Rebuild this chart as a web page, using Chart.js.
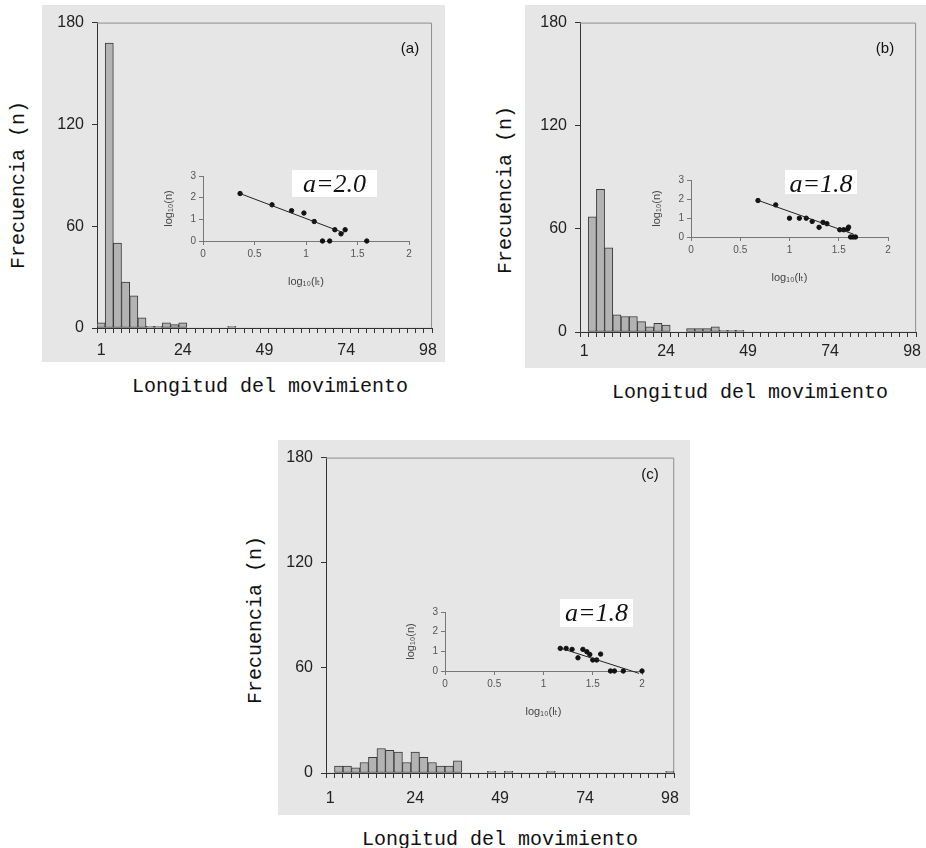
<!DOCTYPE html>
<html lang="es">
<head>
<meta charset="UTF-8">
<title>Frecuencia y longitud del movimiento</title>
<script src="https://cdn.jsdelivr.net/npm/chart.js"></script>
<style>
  body { margin: 0; background: #fff; width: 926px; height: 848px; position: relative; overflow: hidden; }
  .panel { position: absolute; background: #e6e6e6; }
  canvas { position: absolute; }
  .ytitle, .xtitle { position: absolute; font-family: 'Liberation Mono', monospace; font-size: 20px; color: #111; white-space: nowrap; }
  .ytitle { transform: translate(-50%, -50%) rotate(-90deg); }
  .xtitle { transform: translate(-50%, -50%); }
  .tag { position: absolute; font: 15px 'Liberation Sans', Arial, sans-serif; color: #111; transform: translate(-50%, -50%); }
  .alpha { position: absolute; background: #fff; font: italic 26px 'Liberation Serif', serif; color: #111; text-align: center; line-height: 28px; }
</style>
</head>
<body>
  <div class="panel" style="left:42px;top:5px;width:403px;height:357px"></div>
  <div class="panel" style="left:525px;top:5px;width:401px;height:363px"></div>
  <div class="panel" style="left:278px;top:440px;width:412px;height:375px"></div>

  <canvas id="histA" width="403" height="357" style="left:42px;top:5px"></canvas>
  <canvas id="histB" width="401" height="363" style="left:525px;top:5px"></canvas>
  <canvas id="histC" width="412" height="375" style="left:278px;top:440px"></canvas>

  <canvas id="insetA" width="270" height="135" style="left:150px;top:160px"></canvas>
  <canvas id="insetB" width="275" height="125" style="left:640px;top:165px"></canvas>
  <canvas id="insetC" width="260" height="125" style="left:395px;top:597px"></canvas>

  <div class="tag" style="left:410px;top:47px">(a)</div>
  <div class="tag" style="left:885px;top:47px">(b)</div>
  <div class="tag" style="left:650px;top:473px">(c)</div>

  <div class="alpha" style="left:292px;top:170px;width:85px;height:27px">a=2.0</div>
  <div class="alpha" style="left:785px;top:170px;width:72px;height:24px">a=1.8</div>
  <div class="alpha" style="left:560px;top:599px;width:73px;height:28px">a=1.8</div>

  <div class="ytitle" style="left:18px;top:185px">Frecuencia (n)</div>
  <div class="ytitle" style="left:505px;top:190px">Frecuencia (n)</div>
  <div class="ytitle" style="left:255px;top:620px">Frecuencia (n)</div>
  <div class="xtitle" style="left:270px;top:386px">Longitud del movimiento</div>
  <div class="xtitle" style="left:750px;top:392px">Longitud del movimiento</div>
  <div class="xtitle" style="left:500px;top:839px">Longitud del movimiento</div>

<script>
// etiquetas del eje x (una cada 10 clases) y del eje y
const xTickLabels = ['1', '24', '49', '74', '98'];
const yTicks = [0, 60, 120, 180];

// frecuencias por clase (41 clases)
const countsA = [3, 168, 50, 27, 19, 6, 1, 1, 3, 2, 3, 0, 0, 0, 0, 0, 1, 0, 0, 0,
                 0, 0, 0, 0, 0, 0, 0, 0, 0, 0, 0, 0, 0, 0, 0, 0, 0, 0, 0, 0, 0];
const countsB = [0, 67, 83, 49, 10, 9, 9, 6, 3, 5, 4, 0, 0, 2, 2, 2, 3, 1, 1, 1,
                 0, 0, 0, 0, 0, 0, 0, 0, 0, 0, 0, 0, 0, 0, 0, 0, 0, 0, 0, 0, 0];
const countsC = [0, 4, 4, 3, 6, 9, 14, 13, 12, 6, 12, 9, 6, 4, 4, 7, 0, 0, 0, 1,
                 0, 1, 0, 0, 0, 0, 1, 0, 0, 0, 0, 0, 0, 0, 0, 0, 0, 0, 0, 0, 1];

// graficos log-log
const logLA = [0.36, 0.67, 0.86, 0.98, 1.08, 1.16, 1.23, 1.28, 1.34, 1.38, 1.59];
const logNA = [2.19, 1.67, 1.40, 1.29, 0.90, 0, 0, 0.52, 0.33, 0.52, 0];
const fitXA = [0.36, 1.37];
const fitYA = [2.19, 0.37];

const logLB = [0.68, 0.86, 1.00, 1.10, 1.17, 1.23, 1.30, 1.34, 1.38, 1.51, 1.55, 1.59, 1.60, 1.62, 1.645, 1.67];
const logNB = [1.92, 1.69, 0.99, 0.99, 0.99, 0.82, 0.51, 0.77, 0.70, 0.38, 0.38, 0.42, 0.52, 0, 0, 0];
const fitXB = [0.68, 1.65];
const fitYB = [1.93, 0.15];

const logLC = [1.17, 1.23, 1.29, 1.35, 1.40, 1.44, 1.47, 1.50, 1.54, 1.58, 1.68, 1.72, 1.81, 2.00];
const logNC = [1.15, 1.15, 1.10, 0.67, 1.10, 0.98, 0.84, 0.56, 0.56, 0.86, 0, 0, 0, 0];
const fitXC = [1.15, 1.97];
const fitYC = [1.20, -0.12];

const sans = "'Liberation Sans', Arial, sans-serif";

// marco gris arriba y a la derecha del area del grafico
const frame = {
  id: 'frame',
  beforeDatasetsDraw(chart) {
    const { ctx, chartArea: a } = chart;
    ctx.save();
    ctx.strokeStyle = '#8e8e8e';
    ctx.lineWidth = 1;
    ctx.beginPath();
    ctx.moveTo(a.left, a.top + 0.5);
    ctx.lineTo(a.right - 0.5, a.top + 0.5);
    ctx.lineTo(a.right - 0.5, a.bottom);
    ctx.stroke();
    ctx.restore();
  }
};

// box = [left, top, width, height] del canvas; area = [left, top, right, bottom] deseada (pagina)
function histogram(id, counts, box, area, labelPad) {
  const yW = area[0] - box[0];
  const xH = box[1] + box[3] - area[3];
  new Chart(document.getElementById(id), {
    type: 'bar',
    data: {
      labels: counts.map((_, i) => (i % 10 === 0 ? xTickLabels[i / 10] : '')),
      datasets: [{
        data: counts,
        backgroundColor: '#b3b3b3',
        borderColor: '#3a3a3a',
        borderWidth: c => (c.raw ? 1 : 0),
        borderSkipped: false,
        barPercentage: 1,
        categoryPercentage: 1
      }]
    },
    options: {
      responsive: false,
      animation: false,
      layout: { padding: { left: 0, top: area[1] - box[1], right: box[0] + box[2] - area[2], bottom: 0 } },
      plugins: { legend: { display: false }, tooltip: { enabled: false } },
      scales: {
        x: {
          grid: { drawOnChartArea: false, tickLength: 5, color: '#333', offset: true },
          border: { color: '#333' },
          ticks: { autoSkip: false, maxRotation: 0, padding: labelPad, color: '#222', font: { family: sans, size: 16 } },
          afterFit: s => { s.height = xH; }
        },
        y: {
          min: 0,
          max: 180,
          afterBuildTicks: s => { s.ticks = yTicks.map(v => ({ value: v })); },
          grid: { drawOnChartArea: false, tickLength: 5, color: '#333' },
          border: { color: '#333' },
          ticks: { padding: 8, color: '#222', font: { family: sans, size: 16 } },
          afterFit: s => { s.width = yW; }
        }
      }
    },
    plugins: [frame]
  });
}

function inset(id, lx, ln, fx, fy, box, area) {
  const yW = 43;
  const xH = 50;
  const tickFont = { family: "'Liberation Sans', Arial", size: 10 };
  const titleFont = { family: "'Liberation Sans', 'DejaVu Sans'", size: 11 };
  new Chart(document.getElementById(id), {
    type: 'scatter',
    data: {
      datasets: [
        {
          type: 'line',
          data: fx.map((x, i) => ({ x, y: fy[i] })),
          borderColor: '#222',
          borderWidth: 1,
          pointRadius: 0,
          clip: false
        },
        {
          data: lx.map((x, i) => ({ x, y: ln[i] })),
          pointRadius: 2.2,
          backgroundColor: '#111',
          borderColor: '#111',
          clip: false
        }
      ]
    },
    options: {
      responsive: false,
      animation: false,
      layout: { padding: { left: area[0] - yW - box[0], top: area[1] - box[1], right: box[0] + box[2] - area[2], bottom: box[1] + box[3] - area[3] - xH } },
      plugins: { legend: { display: false }, tooltip: { enabled: false } },
      scales: {
        x: {
          type: 'linear',
          min: 0,
          max: 2,
          ticks: { stepSize: 0.5, padding: 3, color: '#555', font: tickFont, callback: v => String(v) },
          grid: { drawOnChartArea: false, tickLength: 4, color: '#777' },
          border: { color: '#777' },
          title: { display: true, text: 'log₁₀(lₜ)', color: '#444', padding: { top: 4, bottom: 2 }, font: titleFont },
          afterFit: s => { s.height = xH; }
        },
        y: {
          min: 0,
          max: 3,
          ticks: { stepSize: 1, padding: 3, color: '#555', font: tickFont, callback: v => String(v) },
          grid: { drawOnChartArea: false, tickLength: 4, color: '#777' },
          border: { color: '#777' },
          title: { display: true, text: 'log₁₀(n)', color: '#444', padding: { top: 2, bottom: 2 }, font: titleFont },
          afterFit: s => { s.width = yW; }
        }
      }
    }
  });
}

histogram('histA', countsA, [42, 5, 403, 357], [97, 21, 433, 328], 8);
histogram('histB', countsB, [525, 5, 401, 363], [580, 21, 920, 332], 5);
histogram('histC', countsC, [278, 440, 412, 375], [326, 455, 680, 773], 11);

inset('insetA', logLA, logNA, fitXA, fitYA, [150, 160, 270, 135], [203, 176, 409, 241]);
inset('insetB', logLB, logNB, fitXB, fitYB, [640, 165, 275, 125], [691, 180, 888, 237]);
inset('insetC', logLC, logNC, fitXC, fitYC, [395, 597, 260, 125], [445, 612, 642, 671]);
</script>
</body>
</html>
